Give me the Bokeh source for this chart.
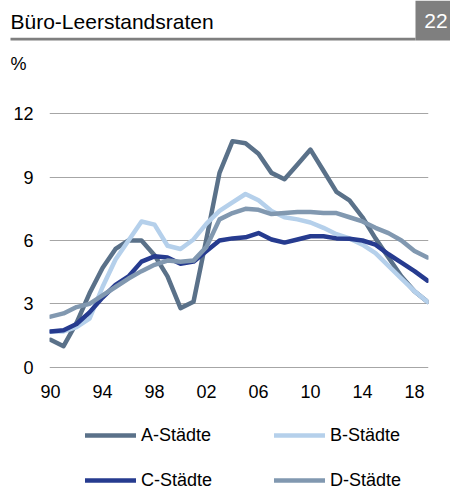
from bokeh.plotting import figure
from bokeh.layouts import column
from bokeh.models import Range1d, Legend, LegendItem
from bokeh.core.properties import value
from bokeh.embed import file_html
from bokeh.resources import INLINE

# ---------------- data ----------------
years = list(range(1990, 2020))
a_staedte = [1.3, 1.0, 2.1, 3.5, 4.7, 5.6, 6.0, 6.0, 5.3, 4.3,
             2.8, 3.1, 6.1, 9.2, 10.7, 10.6, 10.1, 9.2, 8.9, 9.6,
             10.3, 9.3, 8.3, 7.9, 7.1, 6.1, 5.2, 4.3, 3.6, 3.1]
b_staedte = [1.7, 1.7, 1.9, 2.3, 3.8, 5.1, 6.0, 6.9, 6.75, 5.75,
             5.6, 6.05, 6.8, 7.4, 7.8, 8.2, 7.9, 7.4, 7.1, 7.0,
             6.85, 6.6, 6.3, 6.1, 5.8, 5.4, 4.8, 4.2, 3.6, 3.1]
c_staedte = [1.7, 1.75, 2.05, 2.6, 3.3, 3.9, 4.3, 5.0, 5.25, 5.2,
             4.9, 5.0, 5.5, 6.0, 6.1, 6.15, 6.35, 6.05, 5.9, 6.05,
             6.2, 6.2, 6.1, 6.08, 6.0, 5.8, 5.35, 4.95, 4.55, 4.1]
d_staedte = [2.4, 2.55, 2.85, 3.0, 3.4, 3.8, 4.2, 4.55, 4.85, 5.05,
             5.0, 5.05, 5.7, 7.0, 7.3, 7.5, 7.45, 7.25, 7.3, 7.35,
             7.35, 7.3, 7.3, 7.1, 6.9, 6.6, 6.35, 6.0, 5.5, 5.2]
series_names = ["A-Städte", "B-Städte", "C-Städte", "D-Städte"]
series_values = [a_staedte, b_staedte, c_staedte, d_staedte]
series_colors = ["#5A7189", "#B5D0EB", "#263B8F", "#8198B0"]

tick_years = [1990, 1994, 1998, 2002, 2006, 2010, 2014, 2018]
tick_labels = ["90", "94", "98", "02", "06", "10", "14", "18"]
y_ticks = [0, 3, 6, 9, 12]

title_text = "Büro-Leerstandsraten"
page_number = "22"
unit_text = "%"

FONT = "Liberation Sans"
TOTAL_W = 450
LINE_W = 4.5

# ---------------- header (title, page box, unit) ----------------
HEAD_H = 80
head = figure(width=TOTAL_W, height=HEAD_H, x_range=Range1d(0, TOTAL_W),
              y_range=Range1d(HEAD_H, 0), x_axis_type=None, y_axis_type=None,
              output_backend="svg", toolbar_location=None, min_border=0)
head.frame_align = False
head.outline_line_color = None
head.background_fill_color = "white"
head.border_fill_color = "white"
head.quad(left=[10], right=[415], top=[37.3], bottom=[40],
          fill_color="#7F7F7F", line_color=None)
head.quad(left=[415], right=[450], top=[0], bottom=[40],
          fill_color="#7F7F7F", line_color=None)
head.text(x=[10], y=[20.5], text=[title_text], text_font=value(FONT),
          text_font_size=value("21px"), text_color="black",
          text_align="left", text_baseline="alphabetic")
head.text(x=[435.5], y=[20.5], text=[page_number], text_font=value(FONT),
          text_font_size=value("21px"), text_color="white",
          text_align="center", text_baseline="alphabetic")
head.text(x=[10], y=[63], text=[unit_text], text_font=value(FONT),
          text_font_size=value("18px"), text_color="black",
          text_align="left", text_baseline="alphabetic")

# ---------------- main chart ----------------
BL, BR, BT, BB = 49, 22, 30, 40
FRAME_H = 260
MAIN_H = BT + FRAME_H + BB
main = figure(width=TOTAL_W, height=MAIN_H,
              x_range=Range1d(1989.92, 2019.08), y_range=Range1d(-0.15, 12.15),
              output_backend="svg", toolbar_location=None,
              min_border_left=BL, min_border_right=BR,
              min_border_top=BT, min_border_bottom=BB)
main.frame_align = False
main.outline_line_color = None
main.background_fill_color = "white"
main.border_fill_color = "white"

for vals, col in zip(series_values, series_colors):
    main.line(years, vals, line_color=col, line_width=LINE_W,
              line_join="round", line_cap="round")

main.xaxis.ticker = tick_years
main.xaxis.major_label_overrides = {int(k): v for k, v in zip(tick_years, tick_labels)}
main.yaxis.ticker = y_ticks
for ax in (main.xaxis, main.yaxis):
    ax.axis_line_color = None
    ax.major_tick_line_color = None
    ax.minor_tick_line_color = None
    ax.major_tick_out = 0
    ax.major_tick_in = 0
    ax.major_label_text_font = FONT
    ax.major_label_text_font_size = "18px"
    ax.major_label_text_color = "black"
main.xaxis.major_label_standoff = 14
main.yaxis.major_label_standoff = 16
main.xgrid.visible = False
main.ygrid.grid_line_color = "#A6A6A6"
main.ygrid.grid_line_width = 1

# ---------------- legend ----------------
LEG_H = 489 - HEAD_H - MAIN_H
leg = figure(width=TOTAL_W, height=LEG_H, x_range=Range1d(0, 1), y_range=Range1d(0, 1),
             x_axis_type=None, y_axis_type=None,
             output_backend="svg", toolbar_location=None, min_border=0)
leg.frame_align = False
leg.outline_line_color = None
leg.background_fill_color = "white"
leg.border_fill_color = "white"
entries = {}
for name, vals, col in zip(series_names, series_values, series_colors):
    # swatch carrier: first point only, lies outside this legend panel's range
    r = leg.line(x=years[:1], y=vals[:1], line_color=col, line_width=LINE_W,
                 line_cap="round")
    entries[name] = LegendItem(label=name, renderers=[r])
# two columns filled column-wise -> A, C in first column; B, D in second
order = [series_names[0], series_names[2], series_names[1], series_names[3]]
legend = Legend(items=[entries[n] for n in order], ncols=2, location=(85, -1.5),
                glyph_width=51, glyph_height=18, label_standoff=5,
                label_width=109, label_height=18, spacing=24,
                padding=0, margin=0, border_line_color=None,
                background_fill_alpha=0,
                label_text_font=FONT, label_text_font_size="18px",
                label_text_color="black")
leg.add_layout(legend)

layout = column(head, main, leg, spacing=0)
open("out.html", "w").write(file_html(layout, INLINE))
